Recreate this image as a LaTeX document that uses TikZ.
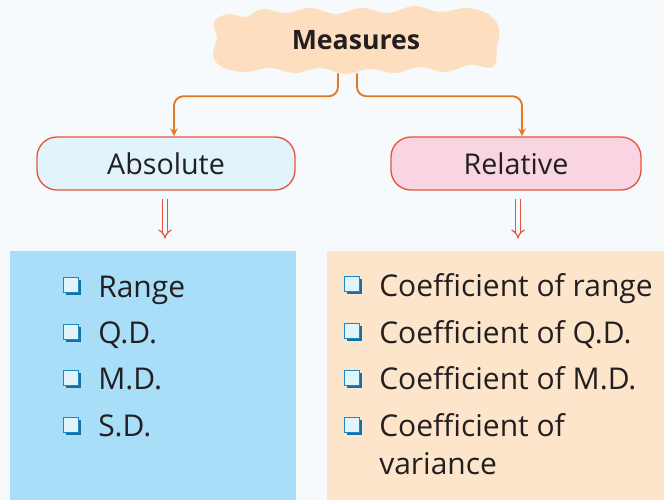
\documentclass[tikz,border=0pt]{standalone}
\usepackage{fontspec}
\setmainfont{Open Sans}
\usetikzlibrary{arrows.meta,calc,shadows}
\definecolor{bg}{HTML}{F6FAFD}
\definecolor{cloudc}{HTML}{FDDFC0}
\definecolor{conn}{HTML}{E27A25}
\definecolor{boxred}{HTML}{E8553A}
\definecolor{absfill}{HTML}{E1F3FB}
\definecolor{relfill}{HTML}{F9D5E3}
\definecolor{leftp}{HTML}{A9DEF8}
\definecolor{rightp}{HTML}{FDE5CB}
\definecolor{bulblue}{HTML}{1B8AC4}
\definecolor{bulshadow}{HTML}{1570A3}
\definecolor{txt}{HTML}{231F20}
\begin{document}
\begin{tikzpicture}[x=0.75pt,y=-0.75pt,
  catbox/.style={draw=boxred, line width=1pt, rounded corners=15pt, minimum height=39.75pt, text=txt, font=\fontsize{21.5}{25}\selectfont},
  connector/.style={draw=conn, line width=1.4pt, rounded corners=7pt, -{Stealth[length=6pt,width=5.5pt]}},
  dbl/.style={draw=boxred, line width=0.9pt, double=bg, double distance=2.6pt, -{Implies[scale=1.2]}},
  item/.style={anchor=base west, inner sep=0pt, text=txt, align=left, font=\fontsize{22.5}{28.5}\selectfont},
  bul/.style={draw=bulblue, line width=0.9pt, fill=absfill, minimum size=11.5pt, inner sep=0pt,
    drop shadow={shadow xshift=1.8pt, shadow yshift=-1.8pt, fill=bulshadow, opacity=1}}
]
\useasboundingbox (0,0) rectangle (664,500);
\fill[bg] (0,0) rectangle (664,500);
% cloud
\fill[cloudc] plot[smooth cycle, tension=0.6] coordinates {
  (214,22)(228,14)(246,17)(262,9)(285,13)(310,8)(336,14)(362,8)(388,13)(414,6)(440,12)(466,8)(488,14)(499,28)(497,48)(493,67)
  (470,65)(445,72)(420,67)(395,73)(370,69)(345,74)(320,68)(295,73)(270,68)(245,72)(222,67)(213,55)(217,38)};
\node[font=\bfseries\fontsize{20}{23}\selectfont, text=txt, minimum height=48pt, inner sep=0pt] (measures) at (356,40) {Measures};
% category boxes
\node[catbox, fill=absfill, minimum width=193.5pt] (absolute) at (166,163.5) {Absolute};
\node[catbox, fill=relfill, minimum width=187.5pt] (relative) at (516,163.5) {Relative};
% connectors
\draw[connector] ($(measures.south)+(-18,1)$) -- ++(0,23) -| ($(absolute.north)+(8,0)$);
\draw[connector] ($(measures.south)+(1,1)$) -- ++(0,23) -| ($(relative.north)+(6,0)$);
\draw[dbl] ($(absolute.south)+(-1,8)$) -- ++(0,40);
\draw[dbl] ($(relative.south)+(2,8)$) -- ++(0,40);
% panels
\fill[leftp] (10,251) rectangle (296,500);
\fill[rightp] (327,251) rectangle (664,500);
% left items
\node[bul] (lb1) at (71,285) {};
\node[bul] (lb2) at (71,332) {};
\node[bul] (lb3) at (71,378) {};
\node[bul] (lb4) at (71,425) {};
\node[item] (li1) at (98,297) {Range};
\node[item] (li2) at (98,343) {Q.D.};
\node[item] (li3) at (98,389) {M.D.};
\node[item] (li4) at (98,436) {S.D.};
% right items
\node[bul] (rb1) at (352,284) {};
\node[bul] (rb2) at (352,331) {};
\node[bul] (rb3) at (352,378) {};
\node[bul] (rb4) at (352,425) {};
\node[item] (ri1) at (379,296) {Coefficient of range};
\node[item] (ri2) at (379,343) {Coefficient of Q.D.};
\node[item] (ri3) at (379,389) {Coefficient of M.D.};
\node[item] (ri4) at (379,474) {Coefficient of\\variance};
\end{tikzpicture}
\end{document}
